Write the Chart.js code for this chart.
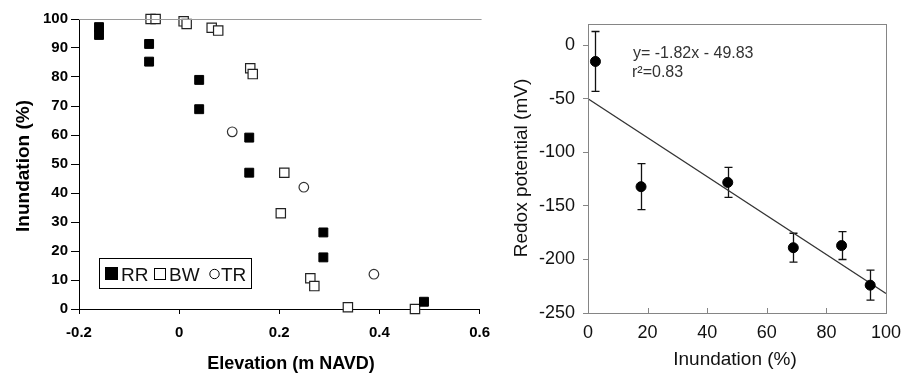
<!DOCTYPE html>
<html>
<head>
<meta charset="utf-8">
<script src="https://cdn.jsdelivr.net/npm/chart.js@4.4.1/dist/chart.umd.min.js"></script>
<style>
  body { margin: 0; background: #fff; }
  #wrap { position: relative; width: 910px; height: 373px; }
  #left { position: absolute; left: 0; top: 0; }
  #right { position: absolute; left: 500px; top: 0; }
</style>
</head>
<body>
<div id="wrap">
  <canvas id="left" width="500" height="373"></canvas>
  <canvas id="right" width="410" height="373"></canvas>
</div>
<script>
// Left panel: inundation vs elevation, three sites
const rrElev = [-0.16, -0.16, -0.06, -0.06, 0.04, 0.04, 0.14, 0.14, 0.288, 0.288, 0.489];
const rrInund = [97.2, 94.5, 91.4, 85.3, 79, 68.9, 59.1, 47, 26.4, 17.8, 2.5];
const bwElev = [-0.057, -0.047, 0.009, 0.015, 0.065, 0.078, 0.142, 0.147, 0.21, 0.203, 0.262, 0.27, 0.337, 0.471];
const bwInund = [100, 100, 99.2, 98.3, 97, 96, 83, 81, 47, 33, 10.6, 7.9, 0.6, 0];
const trElev = [0.106, 0.249, 0.389];
const trInund = [61.1, 42, 12];
const siteNames = ["RR", "BW", "TR"];
const elevTicks = [-0.2, 0, 0.2, 0.4, 0.6];

// Right panel: redox potential vs inundation
const inundPct = [2.5, 17.8, 46.9, 68.9, 85.1, 94.7];
const redoxMean = [-15, -132, -128, -189, -187, -224];
const redoxErr = [28, 21.5, 14, 13.5, 13, 14];
const fitSlope = -1.82;
const fitIntercept = -49.83;
const fitX = [0, 100];

const FONT = "'Liberation Sans', Arial, sans-serif";

function pts(xs, ys) {
    return xs.map((x, i) => ({ x: x, y: ys[i] }));
}

// ---------- left chart ----------
const leftDecor = {
    id: "leftDecor",
    afterDraw(chart) {
        const ctx = chart.ctx;
        const a = chart.chartArea;
        ctx.save();
        // grey top frame line
        ctx.strokeStyle = "#9a9a9a";
        ctx.lineWidth = 1;
        ctx.beginPath();
        ctx.moveTo(a.left, a.top + 0.5);
        ctx.lineTo(a.right + 2, a.top + 0.5);
        ctx.stroke();

        // legend box
        ctx.strokeStyle = "#000";
        ctx.strokeRect(99.5, 258.5, 152, 30);
        ctx.fillStyle = "#000";
        ctx.fillRect(105, 267, 13, 13);
        ctx.strokeRect(154.5, 268.5, 11, 11);
        ctx.beginPath();
        ctx.arc(214.5, 274, 4.7, 0, Math.PI * 2);
        ctx.stroke();
        ctx.font = "19px " + FONT;
        ctx.fillStyle = "#111";
        ctx.textBaseline = "alphabetic";
        ctx.fillText(siteNames[0], 121, 280.5);
        ctx.fillText(siteNames[1], 169, 280.5);
        ctx.fillText(siteNames[2], 221, 280.5);

        // axis titles
        ctx.fillStyle = "#000";
        ctx.textAlign = "center";
        ctx.textBaseline = "middle";
        ctx.font = "bold 18px " + FONT;
        ctx.fillText("Elevation (m NAVD)", 291, 364);
        ctx.translate(24, 166);
        ctx.rotate(-Math.PI / 2);
        ctx.font = "bold 19px " + FONT;
        ctx.fillText("Inundation (%)", 0, 0);
        ctx.restore();
    }
};

new Chart(document.getElementById("left"), {
    type: "scatter",
    data: {
        datasets: [
            {
                label: siteNames[0],
                data: pts(rrElev, rrInund),
                pointStyle: "rect",
                pointRadius: 6.3,
                backgroundColor: "#000",
                borderColor: "#000",
                borderWidth: 1,
                clip: false,
            },
            {
                label: siteNames[1],
                data: pts(bwElev, bwInund),
                pointStyle: "rect",
                pointRadius: 6.6,
                backgroundColor: "#fff",
                borderColor: "#222",
                borderWidth: 1.2,
                clip: false,
            },
            {
                label: siteNames[2],
                data: pts(trElev, trInund),
                pointStyle: "circle",
                pointRadius: 4.8,
                backgroundColor: "#fff",
                borderColor: "#333",
                borderWidth: 1.2,
                clip: false,
            },
        ],
    },
    options: {
        responsive: false,
        animation: false,
        devicePixelRatio: 1,
        layout: { padding: { left: 0, top: 19, right: 12, bottom: 0 } },
        plugins: { legend: { display: false }, tooltip: { enabled: false } },
        scales: {
            x: {
                type: "linear",
                min: -0.2,
                max: 0.6,
                afterBuildTicks: (s) => { s.ticks = elevTicks.map((v) => ({ value: v })); },
                afterFit: (s) => { s.height = 64; },
                ticks: {
                    color: "#000",
                    padding: 10,
                    font: { family: FONT, size: 15, weight: "bold" },
                    callback: (v) => String(Math.round(v * 10) / 10),
                },
                grid: { drawOnChartArea: false, drawTicks: true, tickLength: 5, color: "#000" },
                border: { color: "#000", width: 1 },
            },
            y: {
                min: 0,
                max: 100,
                afterFit: (s) => { s.width = 79; },
                ticks: {
                    stepSize: 10,
                    color: "#000",
                    padding: 3,
                    font: { family: FONT, size: 15, weight: "bold" },
                },
                grid: { drawOnChartArea: false, drawTicks: true, tickLength: 8, color: "#000" },
                border: { color: "#000", width: 1 },
            },
        },
    },
    plugins: [leftDecor],
});

// ---------- right chart ----------
const rightDecor = {
    id: "rightDecor",
    beforeDatasetsDraw(chart) {
        // error bars
        const ctx = chart.ctx;
        const xs = chart.scales.x;
        const ys = chart.scales.y;
        ctx.save();
        ctx.strokeStyle = "#111";
        ctx.lineWidth = 1.3;
        inundPct.forEach((v, i) => {
            const px = Math.round(xs.getPixelForValue(v)) + 0.5;
            const top = ys.getPixelForValue(redoxMean[i] + redoxErr[i]);
            const bot = ys.getPixelForValue(redoxMean[i] - redoxErr[i]);
            ctx.beginPath();
            ctx.moveTo(px, top);
            ctx.lineTo(px, bot);
            ctx.moveTo(px - 4, top);
            ctx.lineTo(px + 4, top);
            ctx.moveTo(px - 4, bot);
            ctx.lineTo(px + 4, bot);
            ctx.stroke();
        });
        ctx.restore();
    },
    afterDraw(chart) {
        const ctx = chart.ctx;
        const a = chart.chartArea;
        const xs = chart.scales.x;
        ctx.save();
        // grey frame
        ctx.strokeStyle = "#858585";
        ctx.lineWidth = 1;
        ctx.strokeRect(Math.round(a.left) + 0.5, Math.round(a.top) + 0.5,
            Math.round(a.right - a.left), Math.round(a.bottom - a.top));
        // inward x ticks
        ctx.beginPath();
        xs.ticks.forEach((t) => {
            const px = Math.round(xs.getPixelForValue(t.value)) + 0.5;
            ctx.moveTo(px, a.bottom);
            ctx.lineTo(px, a.bottom - 5);
        });
        ctx.stroke();

        // regression equation
        ctx.fillStyle = "#333";
        ctx.textBaseline = "middle";
        ctx.font = "16px " + FONT;
        ctx.fillText("y= -1.82x - 49.83", 133, 54);
        ctx.fillText("r\u00b2=0.83", 132, 73);

        // axis titles
        ctx.fillStyle = "#111";
        ctx.textAlign = "center";
        ctx.font = "19px " + FONT;
        ctx.fillText("Inundation (%)", 235, 360);
        ctx.translate(22, 168);
        ctx.rotate(-Math.PI / 2);
        ctx.fillText("Redox potential (mV)", 0, 0);
        ctx.restore();
    }
};

new Chart(document.getElementById("right"), {
    type: "scatter",
    data: {
        datasets: [
            {
                label: "Redox",
                data: pts(inundPct, redoxMean),
                pointStyle: "circle",
                pointRadius: 5,
                backgroundColor: "#000",
                borderColor: "#000",
                clip: false,
            },
            {
                label: "Fit",
                type: "line",
                data: pts(fitX, fitX.map((x) => fitSlope * x + fitIntercept)),
                borderColor: "#333",
                borderWidth: 1.3,
                pointRadius: 0,
                fill: false,
            },
        ],
    },
    options: {
        responsive: false,
        animation: false,
        devicePixelRatio: 1,
        layout: { padding: { left: 0, top: 24, right: 16, bottom: 0 } },
        plugins: { legend: { display: false }, tooltip: { enabled: false } },
        scales: {
            x: {
                type: "linear",
                min: 0,
                max: 100,
                afterFit: (s) => { s.height = 60; },
                ticks: {
                    stepSize: 20,
                    color: "#111",
                    padding: 9,
                    font: { family: FONT, size: 18 },
                },
                grid: { drawOnChartArea: false, drawTicks: false },
                border: { color: "#858585", width: 1 },
            },
            y: {
                min: -250,
                max: 20,
                afterBuildTicks: (s) => { s.ticks = s.ticks.filter((t) => t.value <= 0); },
                afterFit: (s) => { s.width = 88; },
                ticks: {
                    stepSize: 50,
                    color: "#111",
                    padding: 8,
                    font: { family: FONT, size: 18 },
                },
                grid: { drawOnChartArea: false, drawTicks: true, tickLength: 5, color: "#858585" },
                border: { color: "#858585", width: 1 },
            },
        },
    },
    plugins: [rightDecor],
});
</script>
</body>
</html>
